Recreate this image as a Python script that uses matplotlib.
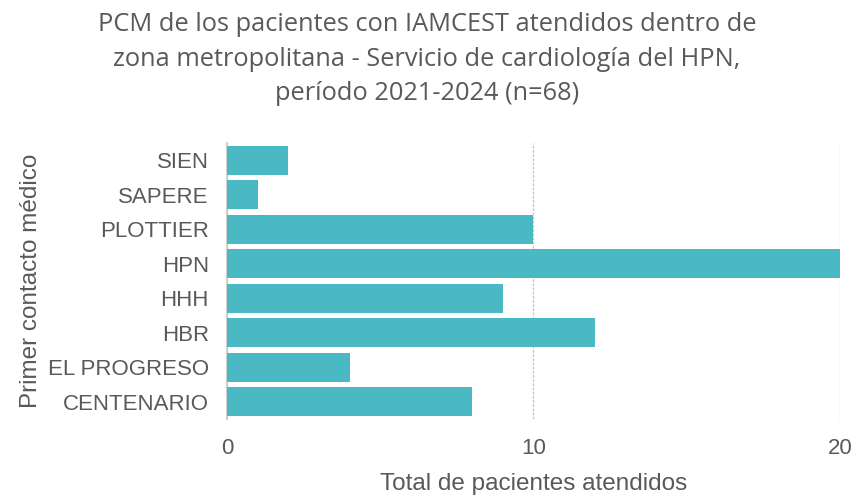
import matplotlib.pyplot as plt

# Datos del gráfico
categorias = ['SIEN', 'SAPERE', 'PLOTTIER', 'HPN', 'HHH', 'HBR', 'EL PROGRESO', 'CENTENARIO']
pacientes = [2, 1, 10, 20, 9, 12, 4, 8]
ticks_x = [0, 10, 20]

titulo = ('PCM de los pacientes con IAMCEST atendidos dentro de\n'
          'zona metropolitana - Servicio de cardiología del HPN,\n'
          'período 2021-2024 (n=68)')

fuente_ejes = 'Liberation Sans'
gris = '#595959'

fig = plt.figure(figsize=(8.54, 4.95), dpi=100)
ax = fig.add_axes([227 / 854, 1 - 419 / 495, (840 - 227) / 854, (419 - 143) / 495])

pos = list(range(len(categorias)))
ax.barh(pos, pacientes, height=0.84, color='#4ab9c3', zorder=3)
ax.set_yticks(pos)
ax.set_yticklabels(categorias, family=fuente_ejes, fontsize=16, color=gris)
ax.set_ylim(len(categorias) - 0.5, -0.5)
ax.set_xlim(0, 20)
ax.set_xticks(ticks_x)
ax.set_xticklabels([str(t) for t in ticks_x], family=fuente_ejes, fontsize=16, color=gris)

ax.grid(axis='x', color='#c8c8c8', linestyle=(0, (2, 1)), linewidth=1, zorder=0)
ax.grid(axis='y', visible=False)
for s in ['top', 'right', 'bottom']:
    ax.spines[s].set_visible(False)
ax.spines['left'].set_color('#c8c8c8')
ax.spines['left'].set_linewidth(1.2)
ax.tick_params(axis='y', length=0, pad=13)
ax.tick_params(axis='x', length=0, pad=14)

ax.set_xlabel('Total de pacientes atendidos', family=fuente_ejes, fontsize=17.5,
              color=gris, labelpad=10)
ax.set_ylabel('Primer contacto médico', family=fuente_ejes, fontsize=17.5,
              color=gris, labelpad=4)

fig.text(0.5, 0.975, titulo, ha='center', va='top', family='Open Sans',
         fontsize=18.3, color=gris, linespacing=1.5)

plt.savefig('out.png', dpi=100)
